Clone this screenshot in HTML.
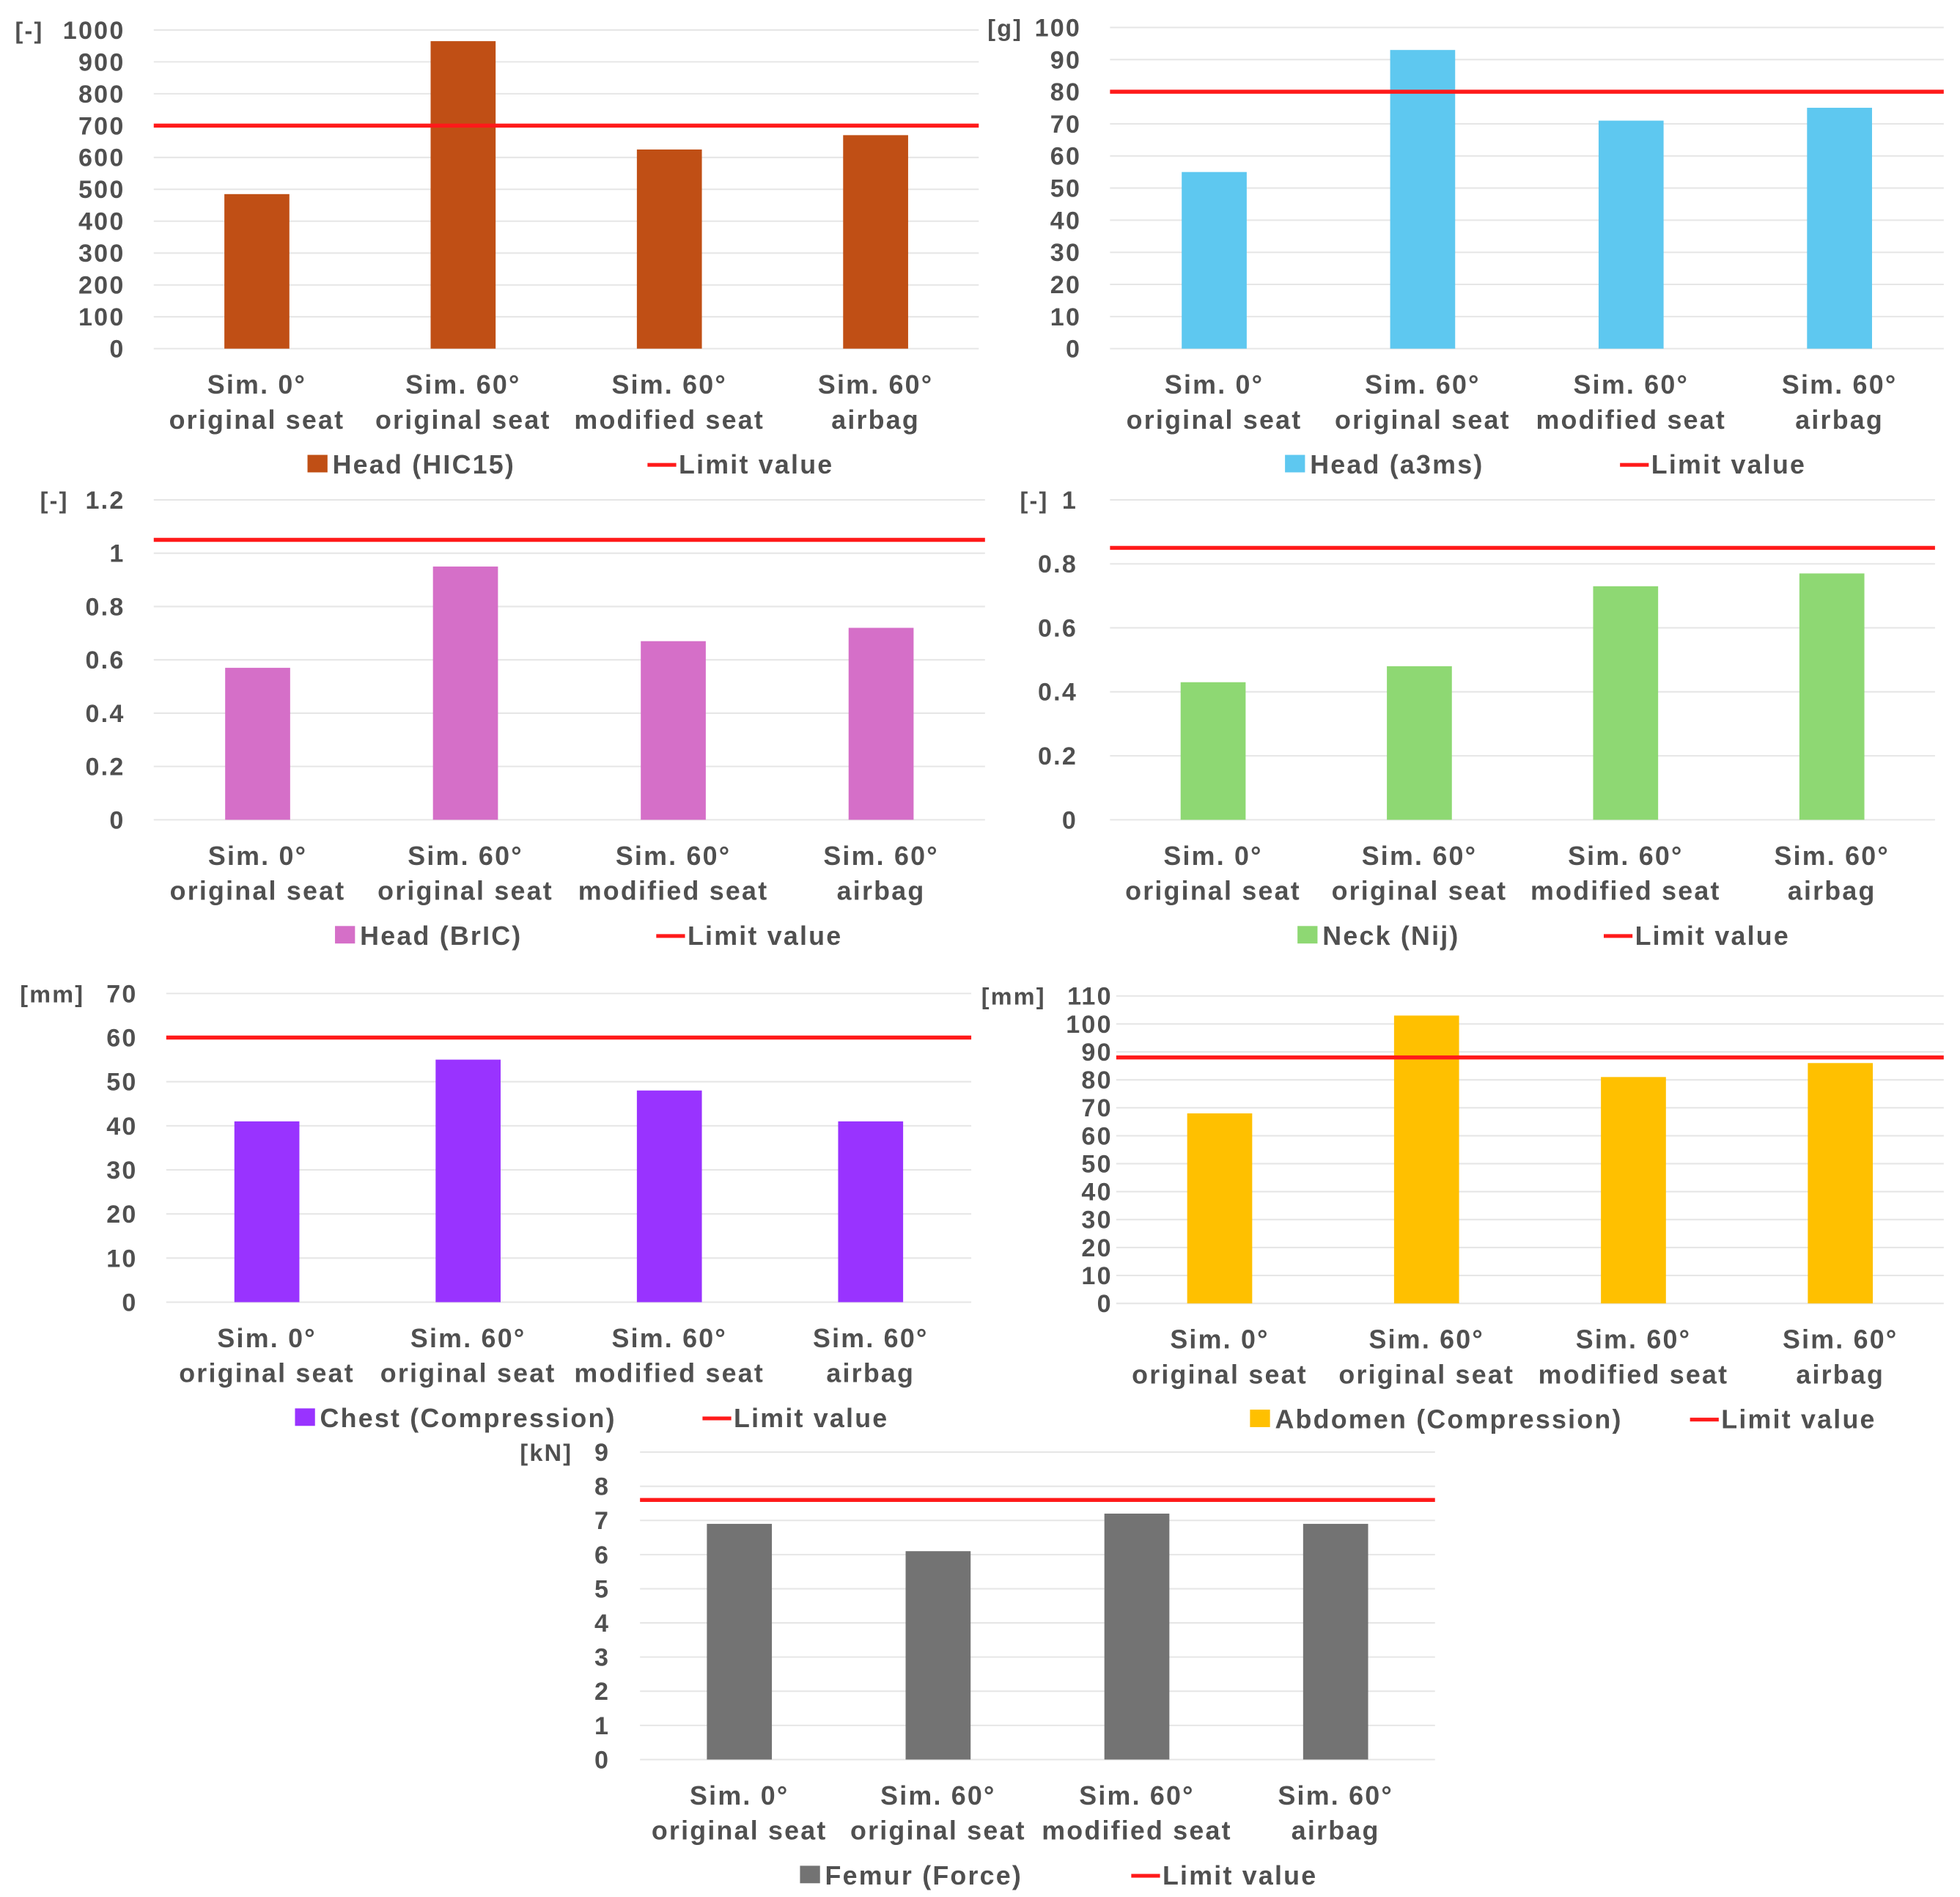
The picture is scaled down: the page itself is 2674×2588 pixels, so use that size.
<!DOCTYPE html>
<html><head><meta charset="utf-8"><style>
html,body{margin:0;padding:0;background:#fff;}
svg{display:block;}
text{font-family:"Liberation Sans",sans-serif;fill:#505050;font-weight:bold;letter-spacing:1.3px;}
</style></head><body>
<svg id="fig" xmlns="http://www.w3.org/2000/svg" width="2674" height="2588" viewBox="0 0 1568 1518" preserveAspectRatio="none"></svg>
<script>
const categories = ["Sim. 0°|original seat","Sim. 60°|original seat","Sim. 60°|modified seat","Sim. 60°|airbag"];
const hicValues = [485, 965, 625, 670];
const a3msValues = [55, 93, 71, 75];
const bricValues = [0.57, 0.95, 0.67, 0.72];
const nijValues = [0.43, 0.48, 0.73, 0.77];
const chestValues = [41, 55, 48, 41];
const abdomenValues = [68, 103, 81, 86];
const femurValues = [6.9, 6.1, 7.2, 6.9];
const limitValues = [700, 80, 1.05, 0.85, 60, 88, 7.6];
const hicTicks = ["0","100","200","300","400","500","600","700","800","900","1000"];
const a3msTicks = ["0","10","20","30","40","50","60","70","80","90","100"];
const bricTicks = ["0","0.2","0.4","0.6","0.8","1","1.2"];
const nijTicks = ["0","0.2","0.4","0.6","0.8","1"];
const chestTicks = ["0","10","20","30","40","50","60","70"];
const abdomenTicks = ["0","10","20","30","40","50","60","70","80","90","100","110"];
const femurTicks = ["0","1","2","3","4","5","6","7","8","9"];
const seriesNames = ["Head (HIC15)","Head (a3ms)","Head (BrIC)","Neck (Nij)","Chest (Compression)","Abdomen (Compression)","Femur (Force)"];

const NS="http://www.w3.org/2000/svg";
const svg=document.getElementById('fig');
function mk(tag,attrs,parent){const e=document.createElementNS(NS,tag);for(const k in attrs)e.setAttribute(k,attrs[k]);(parent||svg).appendChild(e);return e;}

const layouts=[
 {x0:123,x1:783,y0:279,y1:24,unit:"[-]",unitX:12,tickX:100,color:"#c04f15",sq:246,ln:518,name:"head-hic15"},
 {x0:888,x1:1555,y0:279,y1:22,unit:"[g]",unitX:790,tickX:865,color:"#5ec8f0",sq:1028,ln:1296,name:"head-a3ms"},
 {x0:123,x1:788,y0:656,y1:400,unit:"[-]",unitX:32,tickX:100,color:"#d56fc8",sq:268,ln:525,name:"head-bric"},
 {x0:888,x1:1548,y0:656,y1:400,unit:"[-]",unitX:816,tickX:862,color:"#8ed873",sq:1038,ln:1283,name:"neck-nij"},
 {x0:133,x1:777,y0:1042,y1:795,unit:"[mm]",unitX:16,tickX:110,color:"#9933ff",sq:236,ln:562,name:"chest"},
 {x0:893,x1:1555,y0:1043,y1:797,unit:"[mm]",unitX:785,tickX:890,color:"#ffc000",sq:1000,ln:1352,name:"abdomen"},
 {x0:512,x1:1148,y0:1408,y1:1162,unit:"[kN]",unitX:416,tickX:488,color:"#737373",sq:640,ln:905,name:"femur"}
];
const allValues=[hicValues,a3msValues,bricValues,nijValues,chestValues,abdomenValues,femurValues];
const allTicks=[hicTicks,a3msTicks,bricTicks,nijTicks,chestTicks,abdomenTicks,femurTicks];

layouts.forEach((L,i)=>{
  const g=mk('g',{});
  
  
  const ticks=allTicks[i];
  const vmax=parseFloat(ticks[ticks.length-1]);
  const yS=v=>L.y0-(v/vmax)*(L.y0-L.y1);
  const bandW=(L.x1-L.x0)/categories.length;
  const xC=k=>L.x0+bandW*(k+0.5);
  ticks.forEach(t=>{
    const y=yS(parseFloat(t));
    const gl=mk('line',{x1:L.x0,x2:L.x1,y1:y,y2:y,stroke:"#e6e6e6","stroke-width":1.2},g);
    
    
    const tl=mk('text',{x:L.tickX,y:y+7,"text-anchor":"end","font-size":20},g);
    tl.textContent=t;
    
    
  });
  const u=mk('text',{x:L.unitX,y:yS(vmax)+7,"font-size":19},g);
  u.textContent=L.unit;
  
  
  allValues[i].forEach((v,k)=>{
    const b=mk('rect',{x:xC(k)-26,y:yS(v),width:52,height:yS(0)-yS(v),fill:L.color},g);
    
    
    const parts=categories[k].split('|');
    parts.forEach((p,j)=>{
      const c=mk('text',{x:xC(k),y:L.y0+36+j*28,"text-anchor":"middle","font-size":21},g);
      c.textContent=p;
      
      
    });
  });
  const ly=yS(limitValues[i]);
  const lim=mk('line',{x1:L.x0,x2:L.x1,y1:ly,y2:ly,stroke:"#ff1a1a","stroke-width":3.2},g);
  
  
  const legY=L.y0+93;
  const sq=mk('rect',{x:L.sq,y:legY-8,width:16,height:14,fill:L.color},g);
  
  
  const st=mk('text',{x:L.sq+20,y:legY+7,"font-size":21},g);
  st.textContent=seriesNames[i];
  
  
  const ll=mk('line',{x1:L.ln,x2:L.ln+23,y1:legY,y2:legY,stroke:"#ff1a1a","stroke-width":3},g);
  
  
  const lt=mk('text',{x:L.ln+25,y:legY+7,"font-size":21},g);
  lt.textContent="Limit value";
  
  
});
</script>
</body></html>
